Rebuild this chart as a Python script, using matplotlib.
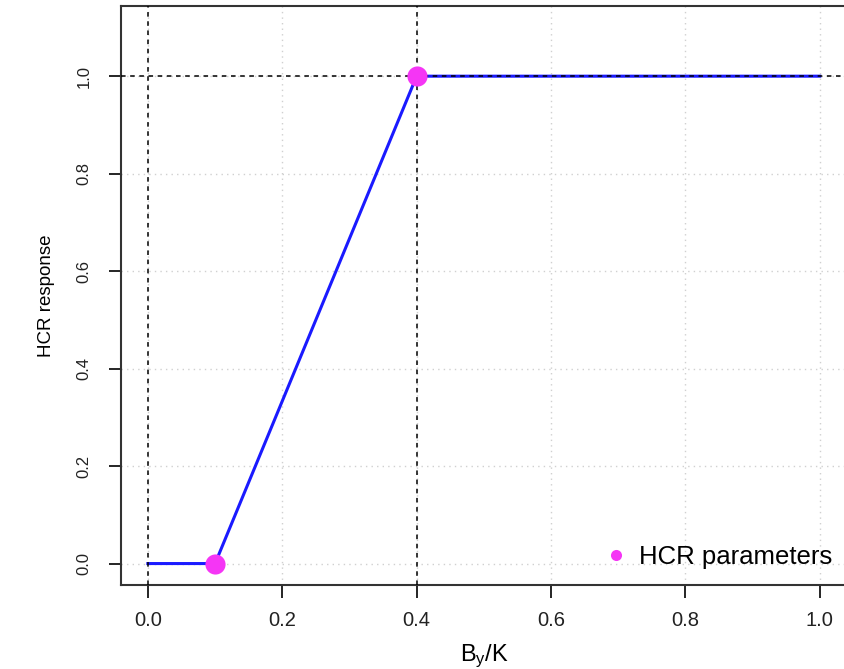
import matplotlib
matplotlib.use("Agg")
from matplotlib import pyplot as plt

plt.rcParams['font.family'] = ['Liberation Sans', 'DejaVu Sans']
plt.rcParams['mathtext.fontset'] = 'custom'
plt.rcParams['mathtext.rm'] = 'Liberation Sans'

# HCR shape: biomass ratio vs response
hcr_x = [0.0, 0.1, 0.4, 1.0]
hcr_y = [0.0, 0.0, 1.0, 1.0]
# control points (lower and upper breakpoints)
par_x = [0.1, 0.4]
par_y = [0.0, 1.0]
ticks = [0.0, 0.2, 0.4, 0.6, 0.8, 1.0]
tick_labels = ["0.0", "0.2", "0.4", "0.6", "0.8", "1.0"]

fig = plt.figure(figsize=(8.45, 6.69), dpi=100)
ax = fig.add_axes([121 / 845, 1 - 585 / 669, 727 / 845, 579 / 669])

ax.set_xlim(-0.04, 1.042)
ax.set_ylim(-0.044, 1.144)

for t in ticks:
    ax.axvline(t, color='#d0d0d0', lw=1, ls=(0, (1, 3)), zorder=1)
    ax.axhline(t, color='#d0d0d0', lw=1, ls=(0, (1, 3)), zorder=1)

ax.plot(hcr_x, hcr_y, color='#1a1aff', lw=2.2, zorder=3)
ax.axvline(0.0, color='black', lw=1.1, ls=(0, (3, 3)), zorder=4)
ax.axvline(0.4, color='black', lw=1.1, ls=(0, (3, 3)), zorder=4)
ax.axhline(1.0, color='black', lw=1.1, ls=(0, (3, 3)), zorder=4)
ax.plot(par_x, par_y, 'o', color='#f535f5', ms=14.5, mec='none', zorder=5,
        label='HCR parameters')

ax.set_xticks(ticks)
ax.set_xticklabels(tick_labels)
ax.set_yticks(ticks)
ax.set_yticklabels(tick_labels, rotation=90, va='center')
ax.tick_params(axis='both', length=9, width=1.2, labelcolor='#222222')
ax.tick_params(axis='x', labelsize=14.5, pad=10)
ax.tick_params(axis='y', labelsize=12, pad=12)
for s in ax.spines.values():
    s.set_linewidth(1.5)
    s.set_color('#333333')
ax.spines['right'].set_visible(False)

ax.set_xlabel(r'$\mathregular{B_y/K}$', fontsize=17, labelpad=9)
ax.set_ylabel('HCR response', fontsize=13.5, labelpad=16)

ax.legend(loc='lower right', frameon=False, fontsize=18.5, markerscale=0.55,
          handletextpad=0.35, handlelength=1.1, bbox_to_anchor=(1.01, -0.012))

fig.savefig("out.png", dpi=100)
